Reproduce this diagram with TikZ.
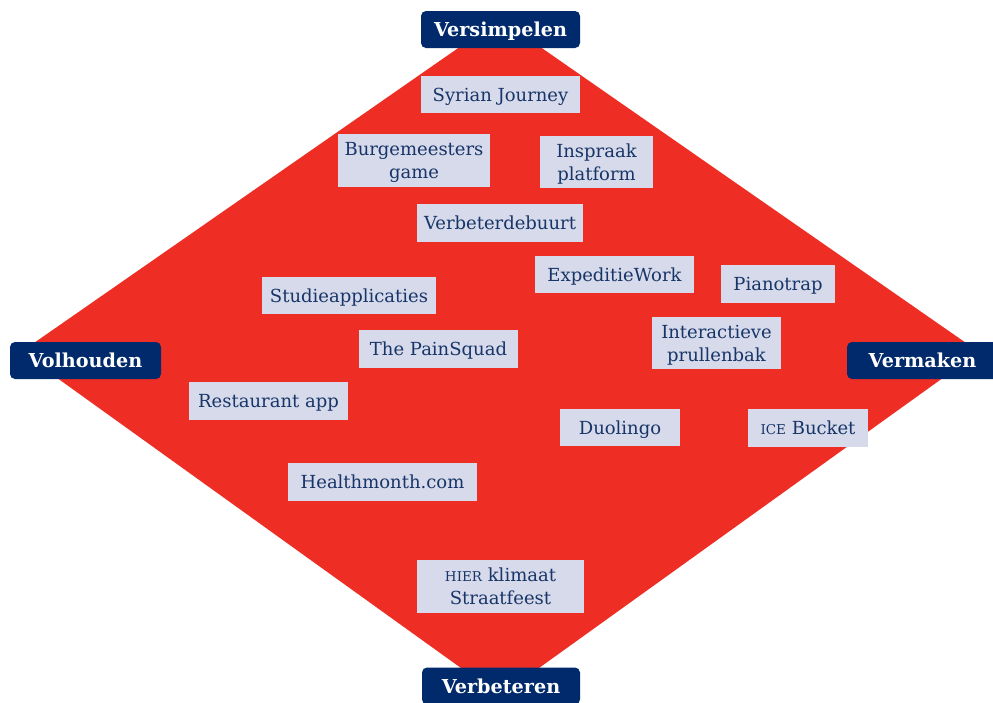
\documentclass[tikz,border=0pt]{standalone}
\usepackage{fontspec}
\setmainfont{DejaVu Serif}
\definecolor{diamondred}{HTML}{EE2E24}
\definecolor{navyc}{HTML}{002A6B}
\definecolor{boxfill}{HTML}{D6DAEA}
\definecolor{boxtext}{HTML}{173568}
\newcommand{\fakesc}[1]{{\fontsize{13.5}{13.5}\selectfont #1}}
\newcommand{\twolines}[2]{\begin{tabular}[b]{@{}c@{}}#1\\#2\end{tabular}}
\begin{document}
\begin{tikzpicture}[x=1pt,y=-1pt,
  item/.style={fill=boxfill, text=boxtext, font=\fontsize{18}{23}\selectfont,
    inner sep=0pt, text height=13pt, text depth=0pt},
  itemtwo/.style={item, text height=36pt, text depth=0pt},
  axislabel/.style={fill=navyc, text=white, rounded corners=5pt,
    font=\bfseries\fontsize{19.2}{20}\selectfont, inner sep=0pt,
    minimum height=37pt, text height=14pt, text depth=0pt}]
\useasboundingbox (0,0) rectangle (993,702);
\coordinate (dtop) at (500,19);
\coordinate (dright) at (979,352);
\coordinate (dbottom) at (500,696);
\coordinate (dleft) at (21,352);
\fill[diamondred] (dtop) -- (dright) -- (dbottom) -- (dleft) -- cycle;

\node[axislabel, minimum width=159pt] (versimpelen) at (500.5,29.5) {Versimpelen};
\node[axislabel, minimum width=151pt] (volhouden) at (85.5,360.5) {Volhouden};
\node[axislabel, minimum width=151pt] (vermaken) at (922.5,360.5) {Vermaken};
\node[axislabel, minimum width=158pt] (verbeteren) at (501,686) {Verbeteren};

\node[item, minimum width=159pt, minimum height=37pt] (syrian) at (500.5,94.5) {Syrian Journey};
\node[itemtwo, minimum width=152pt, minimum height=53pt] (burgemeesters) at (414,160.5) {\twolines{Burgemeesters}{game}};
\node[itemtwo, minimum width=113pt, minimum height=52pt] (inspraak) at (596.5,162) {\twolines{Inspraak}{platform}};
\node[item, minimum width=166pt, minimum height=38pt] (verbeterdebuurt) at (500,223) {Verbeterdebuurt};
\node[item, minimum width=159pt, minimum height=37pt] (expeditie) at (614.5,274.5) {ExpeditieWork};
\node[item, minimum width=114pt, minimum height=38pt] (pianotrap) at (778,284) {Pianotrap};
\node[itemtwo, minimum width=129pt, minimum height=52pt] (prullenbak) at (716.5,343) {\twolines{Interactieve}{prullenbak}};
\node[item, minimum width=174pt, minimum height=37pt] (studie) at (349,295.5) {Studieapplicaties};
\node[item, minimum width=159pt, minimum height=38pt] (painsquad) at (438.5,349) {The PainSquad};
\node[item, minimum width=159pt, minimum height=38pt] (restaurant) at (268.5,401) {Restaurant app};
\node[item, minimum width=120pt, minimum height=37pt] (duolingo) at (620,427.5) {Duolingo};
\node[item, minimum width=120pt, minimum height=38pt] (icebucket) at (808,428) {\fakesc{ICE} Bucket};
\node[item, minimum width=189pt, minimum height=38pt] (healthmonth) at (382.5,482) {Healthmonth.com};
\node[itemtwo, minimum width=167pt, minimum height=53pt] (hier) at (500.5,586.5) {\twolines{\fakesc{HIER} klimaat}{Straatfeest}};
\end{tikzpicture}
\end{document}
